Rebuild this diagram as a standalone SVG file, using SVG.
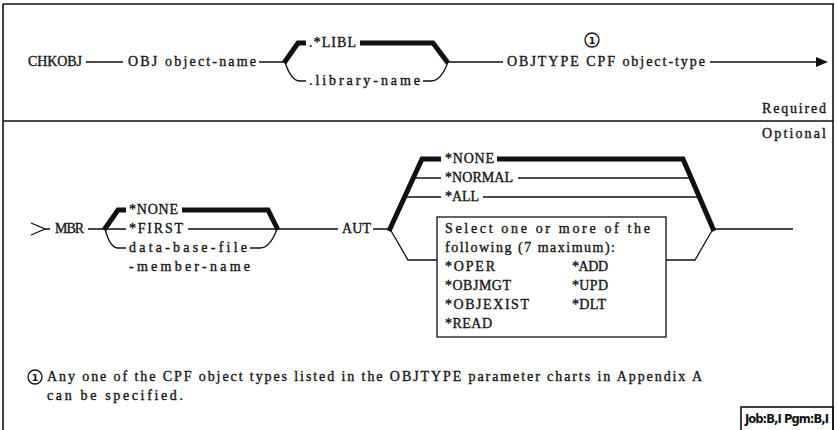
<svg xmlns="http://www.w3.org/2000/svg" width="837" height="430" viewBox="0 0 837 430">
<style>
.t{font-family:"Liberation Serif","DejaVu Serif",serif;font-size:14px;fill:#151515;stroke:#151515;stroke-width:0.35;lengthAdjust:spacing}
.b{font-family:"DejaVu Sans","Liberation Sans",sans-serif;font-size:11.5px;font-weight:bold;fill:#111}
.thin{fill:none;stroke:#111;stroke-width:1.3}
.thick{fill:none;stroke:#111;stroke-width:5;stroke-linejoin:miter;stroke-linecap:butt}
.frame{fill:none;stroke:#111;stroke-width:1.6}
.num{font-family:"DejaVu Sans","Liberation Sans",sans-serif;font-size:9.5px;font-weight:bold;fill:#111;text-anchor:middle}
</style>
<g id="frame">
<path class="frame" d="M3,4 H834 M3,4 V430 M833,4 V430 M3,121 H833"/>
<rect class="frame" x="741" y="407" width="92" height="24"/>
<text class="b" x="745" y="423" textLength="84">Job:B,I Pgm:B,I</text>
<text class="t" x="826" y="113" text-anchor="end" textLength="64">Required</text>
<text class="t" x="826" y="138" text-anchor="end" textLength="64">Optional</text>
</g>
<g id="required-row">
<g id="n-chkobj"><text class="t" x="28" y="66" textLength="54">CHKOBJ</text></g>
<g id="n-obj"><text class="t" x="128" y="66" textLength="128">OBJ object-name</text></g>
<g id="n-libl"><text class="t" x="309" y="47" textLength="47">.*LIBL</text></g>
<g id="n-libname"><text class="t" x="309" y="85" textLength="111">.library-name</text></g>
<g id="n-objtype"><text class="t" x="507" y="66" textLength="198">OBJTYPE CPF object-type</text>
<circle class="thin" cx="592" cy="40" r="7"/><text class="num" x="592" y="43.5">1</text></g>
</g>
<g id="optional-row">
<g id="n-mbr"><path class="thin" d="M31,223 L45,229 L31,235 M45,229 H50"/><text class="t" x="55" y="233" textLength="29">MBR</text></g>
<g id="n-none1"><text class="t" x="129" y="214" textLength="49">*NONE</text></g>
<g id="n-first"><text class="t" x="129" y="233" textLength="54">*FIRST</text></g>
<g id="n-dbfile"><text class="t" x="129" y="252" textLength="118">data-base-file</text>
<text class="t" x="129" y="271" textLength="121">-member-name</text></g>
<g id="n-aut"><text class="t" x="342" y="233" textLength="29">AUT</text></g>
<g id="n-none2"><text class="t" x="445" y="163" textLength="49">*NONE</text></g>
<g id="n-normal"><text class="t" x="445" y="182" textLength="68">*NORMAL</text></g>
<g id="n-all"><text class="t" x="445" y="201" textLength="34">*ALL</text></g>
<g id="n-select">
<rect class="thin" x="437" y="217" width="229" height="120"/>
<text class="t" x="445" y="233" textLength="205">Select one or more of the</text>
<text class="t" x="445" y="252" textLength="170">following (7 maximum):</text>
<text class="t" x="445" y="271" textLength="50">*OPER</text>
<text class="t" x="445" y="290" textLength="66">*OBJMGT</text>
<text class="t" x="445" y="309" textLength="84">*OBJEXIST</text>
<text class="t" x="445" y="328" textLength="47">*READ</text>
<text class="t" x="572" y="271" textLength="36">*ADD</text>
<text class="t" x="572" y="290" textLength="36">*UPD</text>
<text class="t" x="572" y="309" textLength="34">*DLT</text>
</g>
</g>
<g id="footnote">
<circle class="thin" cx="35" cy="377" r="7"/><text class="num" x="35" y="380.5">1</text>
<text class="t" x="47" y="381" textLength="655">Any one of the CPF object types listed in the OBJTYPE parameter charts in Appendix A</text>
<text class="t" x="47" y="400" textLength="136">can be specified.</text>
</g>
<g id="connectors">
<path class="thin" d="M86,62 H123 M259,62 H285 M285,62 Q291,81 300,81 H306 M423,81 H431 Q441,81 448,62 M448,62 H503 M710,62 H818"/>
<polygon points="816,57 828,62 816,67" fill="#111"/>
<path class="thick" d="M284,63 L298,43 H306 M360,43 H433 L448,63"/>
<path class="thin" d="M88,229 H105 M105,229 H126 M188,229 H277 M105,229 Q110,248 118,248 H126 M250,248 H260 Q270,248 277,229 M277,229 H338 M373,229 H390"/>
<path class="thick" d="M104,230 L118,210 H126 M182,210 H268 L278,230"/>
<path class="thin" d="M390,229 L408,260 H437 M413,178 H441 M518,178 H691 M405,197 H441 M483,197 H699 M666,260 H695 L713,229 M713,229 H793"/>
<path class="thick" d="M389,231 L422,159 H441 M497,159 H683 L714,231"/>
</g>
</svg>
